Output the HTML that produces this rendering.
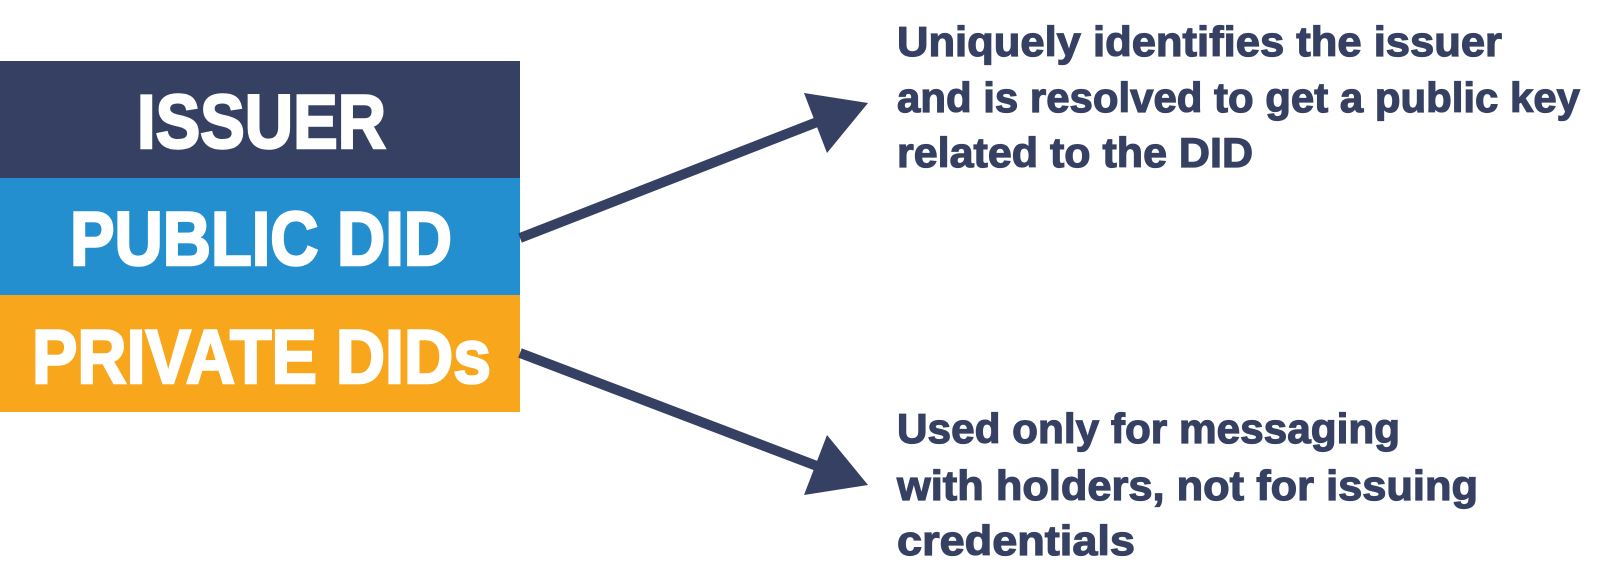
<!DOCTYPE html>
<html><head><meta charset="utf-8"><style>
html,body{margin:0;padding:0;background:#fff;}
svg{display:block;}
.t{font-family:"Liberation Sans",sans-serif;font-weight:bold;fill:#364062;stroke:#364062;stroke-width:1.2px;font-size:42px;}
.b{font-family:"Liberation Sans",sans-serif;font-weight:bold;fill:#fff;stroke:#fff;stroke-width:2.5px;font-size:76px;}
</style></head><body>
<svg width="1600" height="583" viewBox="0 0 1600 583" xmlns="http://www.w3.org/2000/svg">
<rect x="0" y="61" width="520" height="117" fill="#364062"/>
<rect x="0" y="178" width="520" height="117" fill="#248fcf"/>
<rect x="0" y="295" width="520" height="117" fill="#f8a71c"/>
<text class="b" x="137" y="148" textLength="249" lengthAdjust="spacingAndGlyphs">ISSUER</text>
<text class="b" x="70" y="265" textLength="382" lengthAdjust="spacingAndGlyphs">PUBLIC DID</text>
<text class="b" x="32" y="383" textLength="459" lengthAdjust="spacingAndGlyphs">PRIVATE DIDs</text>
<line x1="520" y1="238" x2="830" y2="117" stroke="#364062" stroke-width="10"/>
<polygon points="868,103 804,93 827,153" fill="#364062"/>
<line x1="520" y1="353" x2="830" y2="471" stroke="#364062" stroke-width="10"/>
<polygon points="868,485 804,495 827,435" fill="#364062"/>
<text class="t" x="897" y="56" textLength="605" lengthAdjust="spacingAndGlyphs">Uniquely identifies the issuer</text>
<text class="t" x="897" y="112" textLength="683" lengthAdjust="spacingAndGlyphs">and is resolved to get a public key</text>
<text class="t" x="897" y="167" textLength="356" lengthAdjust="spacingAndGlyphs">related to the DID</text>
<text class="t" x="897" y="443" textLength="503" lengthAdjust="spacingAndGlyphs">Used only for messaging</text>
<text class="t" x="897" y="500" textLength="581" lengthAdjust="spacingAndGlyphs">with holders, not for issuing</text>
<text class="t" x="897" y="555" textLength="238" lengthAdjust="spacingAndGlyphs">credentials</text>
</svg>
</body></html>
